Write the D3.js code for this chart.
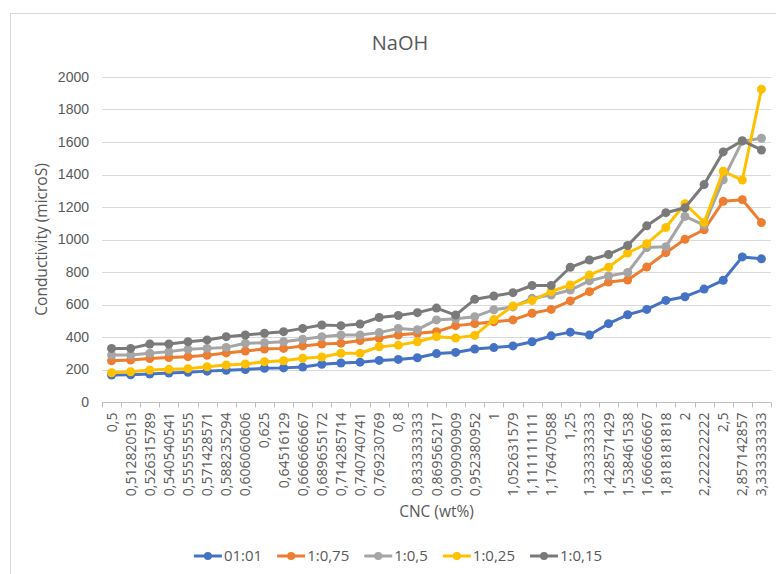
<!DOCTYPE html>
<html>
<head>
<meta charset="utf-8">
<script src="https://cdn.jsdelivr.net/npm/d3@7/dist/d3.min.js"></script>
<style>
  html, body { margin: 0; padding: 0; background: #fff; }
  svg { display: block; font-family: "Open Sans", "Liberation Sans", sans-serif; }
</style>
</head>
<body>
<svg id="chart" width="776" height="574"></svg>
<script>
// CNC concentration categories (wt%), as printed on the axis
const categories = [
  "0,5", "0,512820513", "0,526315789", "0,540540541", "0,555555555",
  "0,571428571", "0,588235294", "0,606060606", "0,625", "0,64516129",
  "0,666666667", "0,689655172", "0,714285714", "0,740740741", "0,769230769",
  "0,8", "0,833333333", "0,869565217", "0,909090909", "0,952380952",
  "1", "1,052631579", "1,111111111", "1,176470588", "1,25",
  "1,333333333", "1,428571429", "1,538461538", "1,666666667", "1,818181818",
  "2", "2,222222222", "2,5", "2,857142857", "3,333333333"
];

// Conductivity (microS) for each CNC:NaOH ratio
const ratio_1_1 = [166, 167, 172, 178, 183, 190, 195, 200, 208, 210, 215, 232, 240, 245, 256, 262, 272, 298, 305, 326, 335, 345, 371, 407, 430, 412, 482, 537, 570, 625, 648, 695, 749, 893, 881];
const ratio_1_075 = [254, 258, 268, 274, 279, 288, 302, 314, 326, 330, 345, 357, 362, 378, 392, 412, 423, 432, 470, 482, 494, 505, 546, 570, 622, 679, 738, 751, 831, 919, 1001, 1060, 1235, 1245, 1104];
const ratio_1_05 = [289, 289, 300, 310, 324, 330, 336, 361, 365, 371, 386, 402, 412, 412, 427, 453, 445, 505, 512, 525, 568, 585, 638, 658, 689, 745, 776, 797, 951, 956, 1142, 1088, 1368, 1605, 1623];
const ratio_1_025 = [180, 186, 197, 201, 205, 217, 228, 234, 248, 254, 269, 277, 300, 300, 340, 350, 371, 402, 394, 410, 507, 591, 624, 680, 720, 782, 830, 917, 974, 1074, 1220, 1105, 1420, 1366, 1925];
const ratio_1_015 = [330, 330, 357, 357, 371, 382, 402, 412, 423, 433, 453, 474, 470, 480, 520, 532, 550, 578, 535, 632, 652, 673, 717, 717, 829, 874, 908, 963, 1084, 1165, 1195, 1338, 1539, 1608, 1551];

const seriesNames = ["01:01", "1:0,75", "1:0,5", "1:0,25", "1:0,15"];
const seriesValues = [ratio_1_1, ratio_1_075, ratio_1_05, ratio_1_025, ratio_1_015];
const seriesColors = ["#4472C4", "#ED7D31", "#A5A5A5", "#FFC000", "#7A7A7A"];

const yTicks = [0, 200, 400, 600, 800, 1000, 1200, 1400, 1600, 1800, 2000];

const svg = d3.select("#chart");
const textColor = "#595959";

// Chart area frame
svg.append("rect")
  .attr("x", 10.5).attr("y", 13.5)
  .attr("width", 800).attr("height", 600)
  .attr("fill", "#fff")
  .attr("stroke", "#d9d9d9");

const plot = { left: 102, right: 771, top: 77, bottom: 402 };

const x = d3.scaleBand()
  .domain(categories)
  .range([plot.left, plot.right])
  .padding(0);

const y = d3.scaleLinear()
  .domain([0, 2000])
  .range([plot.bottom, plot.top]);

// Horizontal gridlines
svg.append("g")
  .selectAll("line")
  .data(yTicks.filter(t => t > 0))
  .join("line")
  .attr("x1", plot.left).attr("x2", plot.right)
  .attr("y1", d => Math.round(y(d)) + 0.5)
  .attr("y2", d => Math.round(y(d)) + 0.5)
  .attr("stroke", "#d9d9d9")
  .attr("stroke-width", 1);

// Y axis labels
const yAxis = d3.axisLeft(y)
  .tickValues(yTicks)
  .tickFormat(d3.format("d"))
  .tickSize(0)
  .tickPadding(13);
const gy = svg.append("g")
  .attr("transform", `translate(${plot.left},0)`)
  .call(yAxis);
gy.select(".domain").remove();
gy.selectAll("text")
  .attr("fill", textColor)
  .style("font-size", "14px");

// X axis line with tick marks between categories
const gx = svg.append("g")
  .attr("transform", `translate(0,${Math.round(plot.bottom) + 0.5})`);
gx.append("line")
  .attr("x1", plot.left).attr("x2", plot.right)
  .attr("stroke", "#bfbfbf");
const boundaries = categories.map(c => x(c)).concat([x.range()[1]]);
gx.selectAll("line.tick")
  .data(boundaries)
  .join("line")
  .attr("class", "tick")
  .attr("x1", d => Math.round(d) + 0.5).attr("x2", d => Math.round(d) + 0.5)
  .attr("y1", 0).attr("y2", 5)
  .attr("stroke", "#bfbfbf");

// Category labels, rotated
gx.selectAll("text")
  .data(categories)
  .join("text")
  .attr("transform", d => `translate(${x(d) + x.bandwidth() / 2 + 5},10) rotate(-90)`)
  .attr("text-anchor", "end")
  .attr("fill", textColor)
  .style("font-size", "14px")
  .text(d => d);

// Series lines and markers
const line = d3.line()
  .x((d, i) => x(categories[i]) + x.bandwidth() / 2)
  .y(d => y(d));

seriesValues.forEach((vals, s) => {
  const g = svg.append("g");
  g.append("path")
    .datum(vals)
    .attr("d", line)
    .attr("fill", "none")
    .attr("stroke", seriesColors[s])
    .attr("stroke-width", 3)
    .attr("stroke-linejoin", "round")
    .attr("stroke-linecap", "round");
  g.selectAll("circle")
    .data(vals)
    .join("circle")
    .attr("cx", (d, i) => x(categories[i]) + x.bandwidth() / 2)
    .attr("cy", d => y(d))
    .attr("r", 4.5)
    .attr("fill", seriesColors[s]);
});

// Title
svg.append("text")
  .attr("x", 400).attr("y", 50)
  .attr("text-anchor", "middle")
  .attr("fill", textColor)
  .style("font-size", "20px")
  .text("NaOH");

// Axis titles
svg.append("text")
  .attr("transform", `translate(47,${(plot.top + plot.bottom) / 2}) rotate(-90)`)
  .attr("text-anchor", "middle")
  .attr("fill", textColor)
  .style("font-size", "15.5px")
  .text("Conductivity (microS)");

svg.append("text")
  .attr("x", (plot.left + plot.right) / 2).attr("y", 517)
  .attr("text-anchor", "middle")
  .attr("fill", textColor)
  .style("font-size", "15.5px")
  .text("CNC (wt%)");

// Legend
const legend = svg.append("g");
const items = legend.selectAll("g")
  .data(seriesNames)
  .join("g");
items.append("line")
  .attr("x1", 0).attr("x2", 28)
  .attr("y1", 0).attr("y2", 0)
  .attr("stroke", (d, i) => seriesColors[i])
  .attr("stroke-width", 3);
items.append("circle")
  .attr("cx", 14).attr("cy", 0).attr("r", 4)
  .attr("fill", (d, i) => seriesColors[i]);
items.append("text")
  .attr("x", 30).attr("y", 5)
  .attr("fill", textColor)
  .style("font-size", "15px")
  .text(d => d);

const gap = 15;
let offset = 0;
const positions = [];
items.each(function () {
  const w = this.getBBox().width;
  positions.push(offset);
  offset += w + gap;
});
const total = offset - gap;
const startX = 398 - total / 2;
items.attr("transform", (d, i) => `translate(${startX + positions[i]},556)`);
</script>
</body>
</html>
